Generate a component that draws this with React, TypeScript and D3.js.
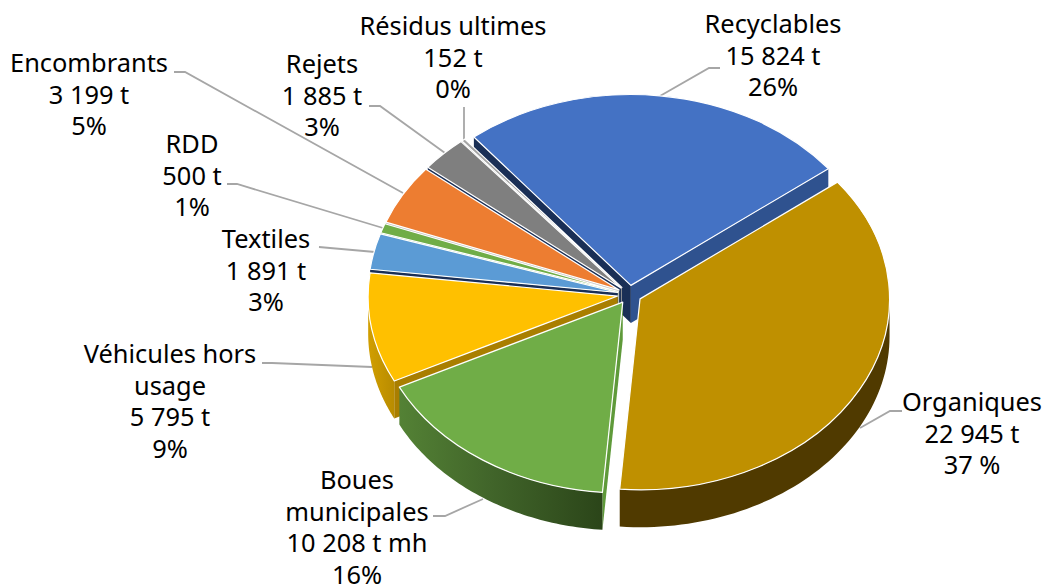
import React from "react";
import * as d3 from "d3";

const categories = ["Recyclables","Organiques","Boues municipales","Véhicules hors usage","Textiles","RDD","Encombrants","Rejets","Résidus ultimes"];
const tonnages = [15824,22945,10208,5795,1891,500,3199,1885,152];
const labelLines = [
  ["Recyclables","15 824 t","26%"],
  ["Organiques","22 945 t","37 %"],
  ["Boues","municipales","10 208 t mh","16%"],
  ["Véhicules hors","usage","5 795 t","9%"],
  ["Textiles","1 891 t","3%"],
  ["RDD","500 t","1%"],
  ["Encombrants","3 199 t","5%"],
  ["Rejets","1 885 t","3%"],
  ["Résidus ultimes","152 t","0%"],
];
const topColors = ["#4472c4","#bf9000","#70ad47","#ffc000","#5b9bd5","#70ad47","#ed7d31","#7f7f7f","#a5a5a5"];
const startWallColors = ["#1a2f56","#7f6000","#5f9a3a","#a97e00","#1a2f56","#a9d18e","#bdbdbd","#1a2f56","#9a9a9a"];
const endWallColors = ["#2f528f","#7f6000","#548235","#a97e00","#1f3864","#548235","#bdbdbd","#1f3864","#9a9a9a"];
const paintOrder = [0,8,7,6,5,4,3,1,2];

// label layout: centre x, first line centre y, leader polyline
const labelX = [773,972,357,170,266,192,89,322,453];
const labelY = [24,402,480,354,239,144,63,64,26];
const leaders: [number,number][][] = [
  [[720,68],[709,68],[660,96]],
  [[902,411],[890,411],[860,428]],
  [[433,516],[445,516],[483,499]],
  [[262,363],[272,363],[372,367]],
  [[319,247],[330,248],[375,252]],
  [[227,184],[237,184],[383,228]],
  [[174,72],[185,72],[403,193]],
  [[369,106],[380,106],[445,153]],
  [[464,107],[464,142]],
];

const W = 1043, H = 587;
const cx = 629.5, cy = 294.5, R = 249.5, K = 0.765, depth = 37.5, explode = 12;
const startDeg = -39;
const rad = Math.PI / 180;

export default function App() {
  const pie = d3.pie<number>().sort(null).startAngle(startDeg * rad).endAngle((startDeg + 360) * rad);
  const arcs = pie(tonnages);
  const arcGen = d3.arc<any>().innerRadius(0).outerRadius(R);
  const line = d3.line<[number,number]>();

  const slices = arcs.map((a, i) => {
    const mid = (a.startAngle + a.endAngle) / 2;
    const ox = cx + explode * Math.sin(mid);
    const oy = cy - explode * K * Math.cos(mid);
    const p = (ang: number, r = R, dz = 0): [number,number] => [ox + r * Math.sin(ang), oy - r * K * Math.cos(ang) + dz];
    const s0 = a.startAngle, e0 = a.endAngle;
    // outer wall: the lower half of the ellipse only
    const lo = Math.max(s0, Math.PI / 2), hi = Math.min(e0, 1.5 * Math.PI);
    let outer: string | null = null;
    if (hi > lo) {
      const angs = d3.range(0, 61).map(t => lo + (hi - lo) * t / 60);
      outer = line([...angs.map(t => p(t)), ...angs.slice().reverse().map(t => p(t, R, depth))]) + "Z";
    }
    const startVisible = Math.sin(s0) < 0;
    const endVisible = Math.sin(e0) > 0;
    const wall = (ang: number) => line([p(ang, 0), p(ang), p(ang, R, depth), p(ang, 0, depth)]) + "Z";
    return { i, a, ox, oy, outer, startWall: startVisible ? wall(s0) : null, endWall: endVisible ? wall(e0) : null };
  });

  const wallFill = (i: number) => i === 1 ? "#503a00" : i === 2 ? "url(#gGreen)" : i === 3 ? "url(#gYellow)" : topColors[i];

  return (
    <svg width={W} height={H} style={{ position: "absolute", left: 0, top: 0, background: "#fff" }} fontFamily="'Noto Sans', sans-serif">
      <defs>
        <linearGradient id="gGreen" gradientUnits="userSpaceOnUse" x1={398} x2={603} y1={0} y2={0}>
          <stop offset="0" stopColor="#548235" />
          <stop offset="0.45" stopColor="#41652a" />
          <stop offset="1" stopColor="#2b4519" />
        </linearGradient>
        <linearGradient id="gYellow" gradientUnits="userSpaceOnUse" x1={366} x2={398} y1={0} y2={0}>
          <stop offset="0" stopColor="#d3a000" />
          <stop offset="1" stopColor="#b58900" />
        </linearGradient>
      </defs>
      {leaders.map((pts, i) => (
        <path key={i} d={line(pts) as string} fill="none" stroke="#a6a6a6" strokeWidth={1.8} />
      ))}
      {paintOrder.map(idx => {
        const s = slices[idx];
        return (
          <g key={idx}>
            {s.startWall && <path d={s.startWall} fill={startWallColors[idx]} />}
            {s.endWall && <path d={s.endWall} fill={endWallColors[idx]} />}
            {s.outer && <path d={s.outer} fill={wallFill(idx)} />}
            <path
              d={arcGen(s.a) as string}
              transform={`translate(${s.ox},${s.oy}) scale(1,${K})`}
              fill={topColors[idx]}
              stroke="#ffffff"
              strokeWidth={1.2}
              vectorEffect="non-scaling-stroke"
              strokeLinejoin="round"
            />
          </g>
        );
      })}
      {labelLines.map((lines, i) =>
        lines.map((t, j) => (
          <text key={`${i}-${j}`} x={labelX[i]} y={labelY[i] + j * 31.6} dy="0.36em" textAnchor="middle" fontSize={25.4} fill="#000">{t}</text>
        ))
      )}
    </svg>
  );
}
